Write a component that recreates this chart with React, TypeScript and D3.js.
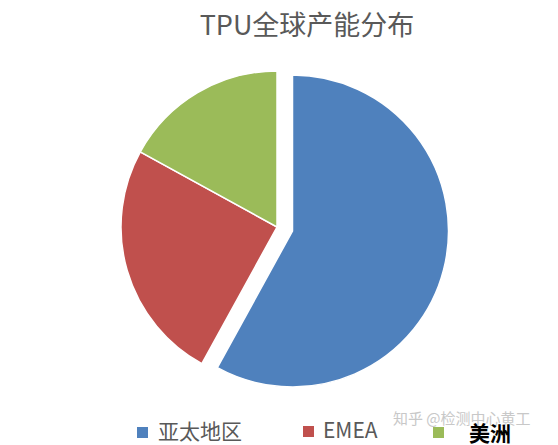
import React from "react";
import * as d3 from "d3";

const categories = ["亚太地区", "EMEA", "美洲"];
const values = [58, 25, 17];
const colors = ["#4F81BD", "#C0504D", "#9BBB59"];
const title = "TPU全球产能分布";
const watermark = "知乎 @检测中心黄工";

export default function App() {
  const W = 558, H = 445;
  const cx = 277, cy = 227, r = 156;
  const explode = [16, 0, 0];
  const pie = d3.pie<number>().sort(null).value((d) => d);
  const arcs = pie(values);
  const arc = d3.arc<d3.PieArcDatum<number>>().innerRadius(0).outerRadius(r);
  const font = "'Noto Sans CJK SC', 'Noto Sans', sans-serif";

  const legendX = [137, 303, 433];
  const legendY = [427, 426, 427];
  const textX = [158, 323, 469];
  const textY = [439, 438, 441];

  return (
    <svg width={W} height={H} style={{ position: "absolute", left: 0, top: 0, background: "#fff" }}>
      <rect width={W} height={H} fill="#fff" />
      <text x={307} y={35} textAnchor="middle" fontFamily={font} fontSize={27} fill="#595959">
        {title}
      </text>
      <g transform={`translate(${cx},${cy})`}>
        {arcs.map((a, i) => {
          const mid = (a.startAngle + a.endAngle) / 2;
          const dx = Math.sin(mid) * explode[i];
          const dy = -Math.cos(mid) * explode[i];
          return (
            <path
              key={i}
              d={arc(a) || ""}
              transform={`translate(${dx},${dy})`}
              fill={colors[i]}
              stroke="#fff"
              strokeWidth={1.5}
            />
          );
        })}
      </g>
      <text x={393} y={424} fontFamily={font} fontSize={15} fill="#c8c8c8">
        {watermark}
      </text>
      {categories.map((c, i) => (
        <g key={c}>
          <rect x={legendX[i]} y={legendY[i]} width={11} height={11} fill={colors[i]} />
          <text
            x={textX[i]}
            y={textY[i]}
            fontFamily={font}
            fontSize={21}
            fontWeight={i === 2 ? 700 : 400}
            fill={i === 2 ? "#000" : "#595959"}
          >
            {c}
          </text>
        </g>
      ))}
    </svg>
  );
}
